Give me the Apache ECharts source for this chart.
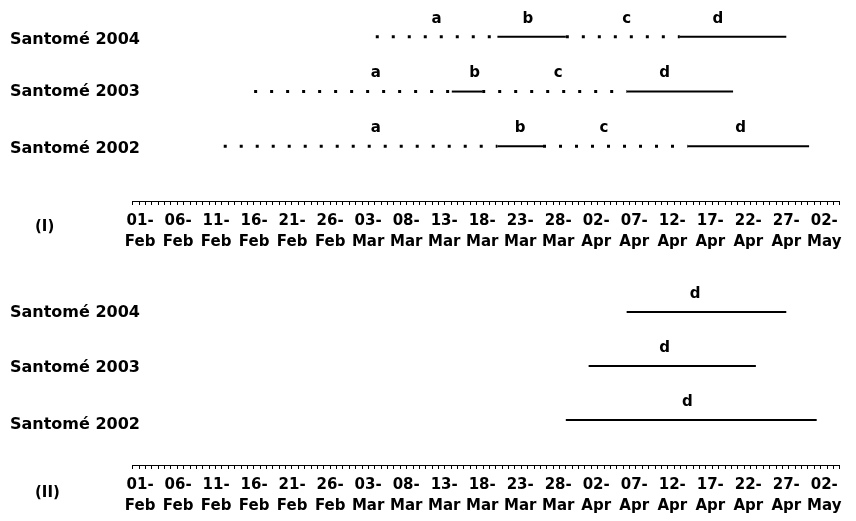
<!DOCTYPE html>
<html>
<head>
<meta charset="utf-8">
<script src="https://cdn.jsdelivr.net/npm/echarts@6/dist/echarts.min.js"></script>
<style>
  html, body { margin: 0; padding: 0; background: #fff; }
  #chart { width: 856px; height: 521px; }
</style>
</head>
<body>
<div id="chart"></div>
<script>
// Rows, top to bottom
const rowNames = ['Santomé 2004', 'Santomé 2003', 'Santomé 2002'];

// Date axis tick labels (every 5 days)
const tickLabels = ['01-Feb', '06-Feb', '11-Feb', '16-Feb', '21-Feb', '26-Feb',
  '03-Mar', '08-Mar', '13-Mar', '18-Mar', '23-Mar', '28-Mar',
  '02-Apr', '07-Apr', '12-Apr', '17-Apr', '22-Apr', '27-Apr', '02-May'];

// Panel (I): phase boundaries [a start, b start, c start, d start, d end]
const phasesI2004 = ['04-Mar', '20-Mar', '29-Mar', '13-Apr', '27-Apr'];
const phasesI2003 = ['16-Feb', '14-Mar', '18-Mar', '06-Apr', '20-Apr'];
const phasesI2002 = ['12-Feb', '20-Mar', '26-Mar', '14-Apr', '30-Apr'];

// Panel (I): dates where the phase letters a, b, c, d sit
const lettersI2004 = ['12-Mar', '24-Mar', '06-Apr', '18-Apr'];
const lettersI2003 = ['04-Mar', '17-Mar', '28-Mar', '11-Apr'];
const lettersI2002 = ['04-Mar', '23-Mar', '03-Apr', '21-Apr'];

// Panel (II): phase d only [start, end] and letter date
const phaseII2004 = ['06-Apr', '27-Apr'];
const phaseII2003 = ['01-Apr', '23-Apr'];
const phaseII2002 = ['29-Mar', '01-May'];
const letterII2004 = '15-Apr';
const letterII2003 = '11-Apr';
const letterII2002 = '14-Apr';

const phaseNames = ['a', 'b', 'c', 'd'];

// Day offset from 01-Feb (non-leap calendar)
const MONTH_OFFSET = { Feb: -1, Mar: 27, Apr: 58, May: 88 };
function day(s) {
  const [d, m] = s.split('-');
  return MONTH_OFFSET[m] + Number(d);
}

const INK = '#000';
const FONT = 'DejaVu Sans';
const X_MIN = -1, X_MAX = 92;

// Evenly spaced minor tick marks along the date axis
const tickMarks = [];
for (let i = 0; i <= 111; i++) tickMarks.push(X_MIN + i * (X_MAX - X_MIN) / 111);

const labelDays = tickLabels.map(day);
const labelByDay = {};
tickLabels.forEach((t, i) => { labelByDay[labelDays[i]] = t.replace('-', '-\n'); });

const dotted = { color: INK, width: 3, type: [3, 13], cap: 'butt' };
const solid = { color: INK, width: 2, type: 'solid', cap: 'butt' };

const rowY = { 'Santomé 2004': 3, 'Santomé 2003': 2, 'Santomé 2002': 1 };

const series = [];
function segment(panel, y, from, to, style) {
  series.push({
    type: 'line', xAxisIndex: panel, yAxisIndex: panel,
    symbol: 'none', silent: true, animation: false,
    lineStyle: style,
    data: [[day(from), y], [day(to), y]]
  });
}
function letters(panel, y, dates, names) {
  series.push({
    type: 'scatter', xAxisIndex: panel, yAxisIndex: panel,
    symbol: 'circle', symbolSize: 1, silent: true, animation: false,
    itemStyle: { color: 'rgba(255,255,255,0)', opacity: 1 },
    label: {
      show: true, position: 'top', distance: 10, opacity: 1,
      color: INK, fontFamily: FONT, fontWeight: 'bold', fontSize: 15,
      textBorderWidth: 0,
      formatter: p => p.value[2]
    },
    data: dates.map((d, i) => [day(d), y, names[i]])
  });
}

// Panel (I)
[[phasesI2004, lettersI2004, rowNames[0]],
 [phasesI2003, lettersI2003, rowNames[1]],
 [phasesI2002, lettersI2002, rowNames[2]]].forEach(([ph, lt, name]) => {
  const y = rowY[name];
  segment(0, y, ph[0], ph[1], dotted);
  segment(0, y, ph[1], ph[2], solid);
  segment(0, y, ph[2], ph[3], dotted);
  segment(0, y, ph[3], ph[4], solid);
  letters(0, y, lt, phaseNames);
});

// Panel (II)
[[phaseII2004, letterII2004, rowNames[0]],
 [phaseII2003, letterII2003, rowNames[1]],
 [phaseII2002, letterII2002, rowNames[2]]].forEach(([ph, lt, name]) => {
  const y = rowY[name];
  segment(1, y, ph[0], ph[1], solid);
  letters(1, y, [lt], ['d']);
});

function xAxis(gridIndex) {
  return {
    type: 'value', gridIndex, min: X_MIN, max: X_MAX,
    axisLine: { show: true, onZero: false, lineStyle: { color: INK, width: 1 } },
    axisTick: { show: true, length: 4, customValues: tickMarks, lineStyle: { color: INK, width: 1 } },
    splitLine: { show: false },
    axisLabel: {
      show: true, customValues: labelDays, margin: 10,
      color: INK, fontFamily: FONT, fontWeight: 'bold', fontSize: 15, lineHeight: 21,
      formatter: v => labelByDay[Math.round(v)] || ''
    }
  };
}
function yAxis(gridIndex, yMin, labelAt) {
  const nameByY = {};
  rowNames.forEach(n => { nameByY[rowY[n]] = n; });
  return {
    type: 'value', gridIndex, min: yMin, max: 3.6,
    axisLine: { show: false }, axisTick: { show: false }, splitLine: { show: false },
    axisLabel: {
      show: true, customValues: labelAt, align: 'left', margin: 122.5,
      color: INK, fontFamily: FONT, fontWeight: 'bold', fontSize: 16,
      formatter: v => nameByY[Math.round(v)] || ''
    }
  };
}

const chart = echarts.init(document.getElementById('chart'), null, { renderer: 'canvas' });
chart.setOption({
  backgroundColor: '#fff',
  animation: false,
  grid: [
    { left: 132.5, right: 16.5, top: 4, height: 197 },
    { left: 132.5, right: 16.5, top: 279.6, height: 185.4 }
  ],
  xAxis: [xAxis(0), xAxis(1)],
  yAxis: [
    yAxis(0, 0, [0.96, 2, 2.95]),
    yAxis(1, 1 / 6, [0.91, 1.96, 2.98])
  ],
  graphic: [
    { type: 'text', left: 35, top: 220, style: { text: '(I)', fill: INK, font: 'bold 15px "DejaVu Sans"' } },
    { type: 'text', left: 35, top: 486, style: { text: '(II)', fill: INK, font: 'bold 15px "DejaVu Sans"' } }
  ],
  series
});
</script>
</body>
</html>
